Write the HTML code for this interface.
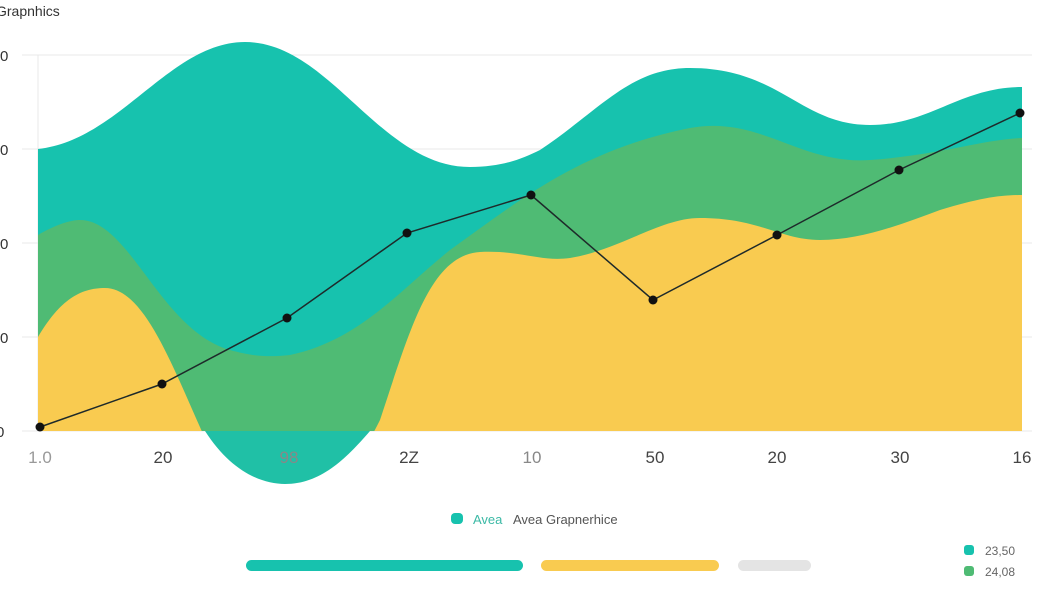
<!DOCTYPE html>
<html><head><style>
body{margin:0;background:#fff;width:1052px;height:597px;overflow:hidden;font-family:"Liberation Sans",sans-serif}
</style></head><body>
<svg width="1052" height="597" xmlns="http://www.w3.org/2000/svg" font-family="Liberation Sans, sans-serif">
<defs><clipPath id="c"><rect x="38" y="0" width="984" height="431"/></clipPath></defs>
<text x="-4" y="16" font-size="14" fill="#333">Grapnhics</text>
<g stroke="#e8e8e8" stroke-width="1">
<line x1="22" y1="55" x2="1032" y2="55"/><line x1="22" y1="149" x2="1032" y2="149"/>
<line x1="22" y1="243" x2="1032" y2="243"/><line x1="22" y1="337" x2="1032" y2="337"/>
<line x1="22" y1="431" x2="1032" y2="431"/><line x1="38" y1="55" x2="38" y2="431"/>
</g>
<g font-size="15" fill="#333"><text x="0" y="61">0</text><text x="0" y="155">0</text><text x="0" y="249">0</text><text x="0" y="343">0</text><text x="-4" y="437">0</text></g>
<path d="M38,149 C120,140 170,42 245,42 C330,42 380,167 470,167 C500,167 520,160 540,150 C600,110 630,68 690,68 C780,68 800,125 870,125 C930,125 960,87 1022,87 L1022,431 L38,431 Z" fill="#17c2ae"/>
<path d="M205,431 C230,470 260,484 285,484 C320,484 345,460 370,431 Z" fill="#20c0a6"/>
<g clip-path="url(#c)">
<path d="M38,235 C55,225 70,220 80,220 C130,220 160,330 230,350 C255,357 270,357 290,355 C360,340 400,290 450,250 C520,200 580,150 690,128 C760,115 800,165 870,160 C940,155 980,140 1022,138 L1022,431 L38,431 Z" fill="#4fbb74"/>
<path d="M38,337 C60,300 80,288 105,288 C150,288 180,390 220,470 C260,540 320,540 380,420 C410,330 430,255 480,252 C520,250 540,262 570,258 C620,250 660,218 700,218 C760,218 780,240 820,240 C860,240 900,225 940,210 C980,198 1000,195 1022,195 L1022,431 L38,431 Z" fill="#f9cb50"/>
</g>
<polyline points="40,427 162,384 287,318 407,233 531,195 653,300 777,235 899,170 1020,113" fill="none" stroke="#1e2a2a" stroke-width="1.5"/>
<g fill="#111"><circle cx="40" cy="427" r="4.5"/><circle cx="162" cy="384" r="4.5"/><circle cx="287" cy="318" r="4.5"/><circle cx="407" cy="233" r="4.5"/><circle cx="531" cy="195" r="4.5"/><circle cx="653" cy="300" r="4.5"/><circle cx="777" cy="235" r="4.5"/><circle cx="899" cy="170" r="4.5"/><circle cx="1020" cy="113" r="4.5"/></g>
<g font-size="17" fill="#444" text-anchor="middle">
<text x="40" y="463" fill="#999">1.0</text><text x="163" y="463">20</text><text x="289" y="463" fill="#888">98</text><text x="409" y="463">2Z</text><text x="532" y="463" fill="#888">10</text><text x="655" y="463">50</text><text x="777" y="463">20</text><text x="900" y="463">30</text><text x="1022" y="463">16</text>
</g>
<rect x="451" y="513" width="12" height="11" rx="4" fill="#17c2ae"/>
<text x="473" y="524" font-size="13" fill="#3bb9a5">Avea</text>
<text x="513" y="524" font-size="13" fill="#555">Avea Grapnerhice</text>
<rect x="246" y="560" width="277" height="11" rx="5.5" fill="#17c2ae"/>
<rect x="541" y="560" width="178" height="11" rx="5.5" fill="#f9cb50"/>
<rect x="738" y="560" width="73" height="11" rx="5.5" fill="#e4e4e4"/>
<rect x="964" y="545" width="10" height="10" rx="3" fill="#17c2ae"/>
<rect x="964" y="566" width="10" height="10" rx="3" fill="#4fbb74"/>
<text x="985" y="555" font-size="12" fill="#666">23,50</text>
<text x="985" y="576" font-size="12" fill="#666">24,08</text>
</svg>
</body></html>
